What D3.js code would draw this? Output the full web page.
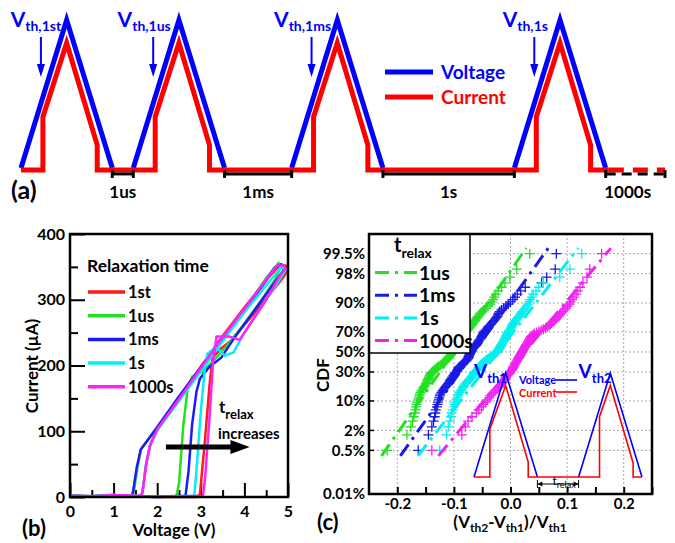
<!DOCTYPE html>
<html>
<head>
<meta charset="utf-8">
<script src="https://cdn.jsdelivr.net/npm/d3@7"></script>
<style>
  body { margin: 0; background: #fff; }
  svg text { font-family: Lato, "Open Sans", sans-serif; font-weight: bold; }
</style>
</head>
<body>
<svg id="fig" width="675" height="543"></svg>
<script>
// ---------- (a) pulse schematic ----------
var gapLabels = ["1us", "1ms", "1s", "1000s"];
var gapLength = [0.46, 1.47, 2.88, 1.3];      // rest between pulses, schematic units (pulse = 2)
var vthLabels = ["1st", "1us", "1ms", "1s"];
var currentShape = [0.48, 0.345, 0.845, 1.67, 0.155]; // rise time, rise level, peak, fall time, fall level
var legendA = ["Voltage", "Current"];

// ---------- (b) I-V loops, [V, uA] ----------
var ivNames = ["1st", "1us", "1ms", "1s", "1000s"];
var iv1st = [[0,2],[0.5,1],[1,3],[1.4,1],[2,0],[2.9,0],[2.98,4],[3.1,90],[3.2,170],[3.27,212],[3.45,225],[3.7,238],[4,262],[4.3,285],[4.6,310],[4.9,335],[5,345],[4.95,352],[4.8,352],[4.5,330],[4,288],[3.5,245],[3,198],[2.5,152],[2,104],[1.84,80],[1.75,50],[1.68,15],[1.64,2],[1.4,1],[1,3],[0.5,1],[0,2]];
var iv1us = [[0,2],[0.5,1],[1,3],[1.4,1],[2,0],[2.44,2],[2.5,20],[2.6,110],[2.7,165],[2.8,183],[3.05,191],[3.3,208],[3.6,230],[4,264],[4.4,300],[4.7,330],[4.85,352],[4.78,356],[4.5,333],[4,285],[3.5,241],[3,196],[2.5,152],[2,106],[1.63,73],[1.55,45],[1.47,10],[1.44,2],[1.3,1],[1,3],[0.5,1],[0,2]];
var iv1ms = [[0,2],[0.5,1],[1,3],[1.4,1],[2,0],[2.65,2],[2.72,40],[2.8,110],[2.9,160],[2.98,180],[3.2,198],[3.47,212],[3.8,245],[4.2,281],[4.6,318],[4.9,345],[4.85,354],[4.7,349],[4.4,320],[4,285],[3.5,241],[3,197],[2.5,153],[2,106],[1.62,72],[1.53,45],[1.45,10],[1.42,2],[1.3,1],[1,3],[0.5,1],[0,2]];
var iv1s = [[0,2],[0.5,1],[1,3],[1.4,1],[2,0],[2.85,2],[2.9,40],[3,130],[3.1,200],[3.15,218],[3.35,228],[3.55,215],[3.75,220],[4,250],[4.4,290],[4.8,330],[4.95,345],[4.85,350],[4.6,330],[4,281],[3.5,237],[3,191],[2.5,146],[2,101],[1.83,78],[1.74,48],[1.67,10],[1.64,2],[1,3],[0.5,1],[0,2]];
var iv1000s = [[0,2],[0.5,1],[1,3],[1.4,1],[2,0],[3.05,2],[3.1,30],[3.2,120],[3.28,205],[3.36,244],[3.66,244],[3.89,239],[4.2,270],[4.5,300],[4.8,335],[4.95,348],[4.9,352],[4.75,352],[4.4,322],[4,286],[3.5,243],[3,196],[2.5,149],[2,103],[1.83,77],[1.74,48],[1.67,10],[1.64,2],[1,3],[0.5,1],[0,2]];

// ---------- (c) threshold shift distributions (100 devices each, sorted) ----------
var cdfNames = ["1us", "1ms", "1s", "1000s"];
var dv1us = [-0.218,-0.183,-0.176,-0.173,-0.171,-0.169,-0.168,-0.167,-0.166,-0.165,
  -0.163,-0.162,-0.161,-0.160,-0.159,-0.157,-0.155,-0.154,-0.152,-0.150,
  -0.149,-0.148,-0.147,-0.146,-0.145,-0.144,-0.143,-0.142,-0.141,-0.139,
  -0.137,-0.135,-0.133,-0.131,-0.129,-0.127,-0.124,-0.121,-0.119,-0.117,
  -0.115,-0.113,-0.112,-0.110,-0.109,-0.108,-0.106,-0.105,-0.103,-0.102,
  -0.100,-0.099,-0.098,-0.097,-0.096,-0.095,-0.094,-0.093,-0.091,-0.090,
  -0.089,-0.088,-0.087,-0.086,-0.085,-0.084,-0.083,-0.082,-0.081,-0.079,
  -0.078,-0.076,-0.074,-0.073,-0.071,-0.069,-0.068,-0.066,-0.064,-0.062,
  -0.061,-0.059,-0.057,-0.055,-0.053,-0.050,-0.047,-0.044,-0.040,-0.036,
  -0.033,-0.031,-0.029,-0.026,-0.022,-0.016,-0.010,-0.001,0.011,0.034];
var dv1ms = [-0.163,-0.145,-0.139,-0.136,-0.134,-0.133,-0.132,-0.130,-0.129,-0.128,
  -0.127,-0.126,-0.125,-0.124,-0.122,-0.120,-0.118,-0.116,-0.114,-0.112,
  -0.110,-0.108,-0.107,-0.106,-0.104,-0.103,-0.101,-0.100,-0.098,-0.097,
  -0.095,-0.094,-0.093,-0.092,-0.091,-0.089,-0.087,-0.085,-0.083,-0.081,
  -0.079,-0.077,-0.076,-0.075,-0.074,-0.074,-0.073,-0.072,-0.072,-0.071,
  -0.070,-0.069,-0.068,-0.066,-0.065,-0.063,-0.062,-0.061,-0.059,-0.058,
  -0.057,-0.056,-0.055,-0.053,-0.052,-0.051,-0.050,-0.049,-0.048,-0.047,
  -0.046,-0.044,-0.042,-0.040,-0.039,-0.037,-0.035,-0.033,-0.031,-0.029,
  -0.027,-0.025,-0.023,-0.022,-0.021,-0.019,-0.016,-0.012,-0.008,-0.004,
  0.000,0.004,0.008,0.012,0.018,0.026,0.055,0.064,0.079,0.081];
var dv1s = [-0.125,-0.113,-0.110,-0.107,-0.105,-0.104,-0.102,-0.100,-0.099,-0.098,
  -0.096,-0.094,-0.093,-0.092,-0.090,-0.088,-0.086,-0.084,-0.083,-0.081,
  -0.079,-0.077,-0.075,-0.073,-0.071,-0.069,-0.067,-0.066,-0.065,-0.064,
  -0.062,-0.060,-0.058,-0.056,-0.055,-0.054,-0.053,-0.051,-0.049,-0.047,
  -0.045,-0.043,-0.041,-0.039,-0.036,-0.034,-0.031,-0.029,-0.027,-0.024,
  -0.023,-0.022,-0.021,-0.020,-0.019,-0.018,-0.017,-0.016,-0.015,-0.014,
  -0.013,-0.012,-0.011,-0.010,-0.009,-0.008,-0.007,-0.006,-0.005,-0.004,
  -0.003,-0.002,0.000,0.001,0.002,0.003,0.004,0.005,0.007,0.009,
  0.011,0.013,0.015,0.017,0.019,0.021,0.023,0.026,0.029,0.031,
  0.033,0.035,0.038,0.040,0.045,0.050,0.058,0.087,0.105,0.126];
var dv1000s = [-0.139,-0.086,-0.080,-0.075,-0.068,-0.060,-0.056,-0.051,-0.048,-0.044,
  -0.041,-0.038,-0.036,-0.033,-0.030,-0.027,-0.024,-0.021,-0.019,-0.017,
  -0.015,-0.013,-0.011,-0.010,-0.009,-0.008,-0.006,-0.004,-0.002,-0.001,
  0.000,0.002,0.003,0.004,0.005,0.006,0.007,0.008,0.009,0.010,
  0.011,0.012,0.013,0.014,0.015,0.016,0.017,0.018,0.019,0.020,
  0.021,0.022,0.023,0.024,0.025,0.026,0.027,0.028,0.029,0.030,
  0.031,0.032,0.033,0.034,0.035,0.036,0.038,0.040,0.042,0.046,
  0.050,0.054,0.058,0.062,0.065,0.068,0.070,0.072,0.075,0.078,
  0.080,0.082,0.085,0.087,0.089,0.092,0.095,0.098,0.101,0.104,
  0.106,0.109,0.112,0.116,0.119,0.123,0.128,0.135,0.140,0.161];
var fitMu = [-0.100, -0.064, -0.022, 0.025];
var fitSigma = [0.047, 0.048, 0.052, 0.056];
var cdfTicks = [0.0001, 0.005, 0.02, 0.1, 0.3, 0.5, 0.7, 0.9, 0.98, 0.995];
var cdfTickLabels = ["0.01%", "0.5%", "2%", "10%", "30%", "50%", "70%", "90%", "98%", "99.5%"];
// inset pulse pair: rise time, rise level, peak, fall time, fall level
var insetPulse1 = [0.5, 0.46, 0.88, 1.71, 0.144];
var insetPulse2 = [0.66, 0.58, 0.88, 1.72, 0.135];
var insetGap = 1.3;

var svg = d3.select("#fig");
var BLUE = "#0000ff", RED = "#ff0000";
var ivColors = ["#ff1a1a", "#22e022", "#1a1aff", "#00f0f0", "#ff22ff"];
var cdfColors = ["#22e022", "#1a1ae6", "#00f0f0", "#f022f0"];

function sub(sel, main, subs, big, small, dy) {
  sel.append("tspan").attr("font-size", big).text(main);
  sel.append("tspan").attr("font-size", small).attr("dy", dy).text(subs);
}

// ================= (a) =================
var starts = [0];
gapLength.forEach(function (g, k) { starts.push(starts[k] + 2 + g); });
var ax = d3.scaleLinear().domain([0, starts[4]]).range([21, 665]);
var ay = d3.scaleLinear().domain([0, 1]).range([168, 20]);
var lineA = d3.line().x(function (d) { return ax(d[0]); }).y(function (d) { return ay(d[1]); });
var gA = svg.append("g");
var base = -0.013;

var red = [[0, base]];
vthLabels.forEach(function (l, k) {
  var s = starts[k], c = currentShape;
  red.push([s + c[0], base], [s + c[0], c[1]], [s + 1, c[2]], [s + c[3], c[4]], [s + c[3], base]);
});
red.push([starts[3] + 2.07, base]);

vthLabels.forEach(function (l, k) {
  var s = starts[k];
  gA.append("path").attr("d", lineA([[s, 0], [s + 1, 1], [s + 2, 0]]))
    .attr("fill", "none").attr("stroke", BLUE).attr("stroke-width", 5);
});
gA.append("path").attr("d", lineA(red)).attr("fill", "none").attr("stroke", RED)
  .attr("stroke-width", 5).attr("stroke-linejoin", "miter");
gA.append("path").attr("d", lineA([[starts[3] + 2.07, base], [starts[4], base]]))
  .attr("fill", "none").attr("stroke", RED).attr("stroke-width", 5).attr("stroke-dasharray", "15,9");

// rest intervals
gapLabels.forEach(function (l, k) {
  var x0 = ax(starts[k] + 2), x1 = ax(starts[k + 1]), y = ay(-0.04);
  gA.append("line").attr("x1", x0).attr("x2", x1).attr("y1", y).attr("y2", y)
    .attr("stroke", "#000").attr("stroke-width", 3)
    .attr("stroke-dasharray", k === 3 ? "10,6" : null);
  [x0, x1].forEach(function (x) {
    gA.append("line").attr("x1", x).attr("x2", x).attr("y1", y - 4).attr("y2", y + 4)
      .attr("stroke", "#000").attr("stroke-width", 3);
  });
  gA.append("text").attr("x", k === 3 ? x0 + 22 : (x0 + x1) / 2).attr("y", 198).attr("text-anchor", "middle")
    .attr("font-size", 17).text(l);
});

// Vth arrows & labels
vthLabels.forEach(function (l, k) {
  var x = ax(starts[k] + currentShape[0]) - 2;
  gA.append("line").attr("x1", x).attr("x2", x).attr("y1", 37).attr("y2", 66)
    .attr("stroke", BLUE).attr("stroke-width", 2);
  gA.append("path").attr("d", "M" + (x - 4) + ",64L" + (x + 4) + ",64L" + x + ",77Z").attr("fill", BLUE);
  var t = gA.append("text").attr("x", x - (k === 0 ? 5 : 9)).attr("y", 27).attr("text-anchor", "middle").attr("fill", BLUE);
  sub(t, "V", "th," + l, 21, 14, 4);
});

// legend (a)
legendA.forEach(function (l, k) {
  var y = 72 + k * 25, c = k === 0 ? BLUE : RED;
  gA.append("line").attr("x1", 385).attr("x2", 433).attr("y1", y).attr("y2", y)
    .attr("stroke", c).attr("stroke-width", 5);
  gA.append("text").attr("x", 441).attr("y", y + 7).attr("fill", c).attr("font-size", 19).text(l);
});
gA.append("text").attr("x", 11).attr("y", 199).attr("font-size", 25).text("(a)");

// ================= (b) =================
var bx = d3.scaleLinear().domain([0, 5]).range([70, 288]);
var by = d3.scaleLinear().domain([0, 400]).range([497, 234]);
var gB = svg.append("g");

function styleAxis(g, fs) {
  g.select(".domain").remove();
  g.selectAll("line").attr("stroke", "#000").attr("stroke-width", 2);
  g.selectAll("text").attr("font-size", fs).attr("font-family", "Lato, sans-serif").attr("font-weight", "bold");
}
gB.append("g").attr("transform", "translate(0,497)")
  .call(d3.axisBottom(bx).tickValues([0.5, 1.5, 2.5, 3.5, 4.5]).tickSize(-7).tickFormat(""))
  .call(styleAxis, 16);
gB.append("g").attr("transform", "translate(0,497)")
  .call(d3.axisBottom(bx).ticks(5).tickSize(-14).tickPadding(9).tickFormat(d3.format("d")))
  .call(styleAxis, 16);
gB.append("g").attr("transform", "translate(70,0)")
  .call(d3.axisLeft(by).tickValues([50, 150, 250, 350]).tickSize(-8).tickFormat(""))
  .call(styleAxis, 16);
gB.append("g").attr("transform", "translate(70,0)")
  .call(d3.axisLeft(by).ticks(4).tickSize(-15).tickPadding(5))
  .call(styleAxis, 16);

var lineB = d3.line().x(function (d) { return bx(d[0]); }).y(function (d) { return by(d[1]); });
[iv1st, iv1us, iv1ms, iv1s, iv1000s].forEach(function (c, k) {
  gB.append("path").attr("d", lineB(c)).attr("fill", "none").attr("stroke", ivColors[k])
    .attr("stroke-width", 2.5).attr("stroke-linejoin", "round");
});
gB.append("rect").attr("x", 70).attr("y", 234).attr("width", 218).attr("height", 263)
  .attr("fill", "none").attr("stroke", "#000").attr("stroke-width", 2.5);

gB.append("text").attr("x", 87).attr("y", 272).attr("font-size", 17.5).text("Relaxation time");
ivNames.forEach(function (n, k) {
  var y = 292 + k * 23.7;
  gB.append("line").attr("x1", 88).attr("x2", 125).attr("y1", y).attr("y2", y)
    .attr("stroke", ivColors[k]).attr("stroke-width", 3.5);
  gB.append("text").attr("x", 128).attr("y", y + 6).attr("font-size", 16.5).text(n);
});

// arrow: t_relax increases
gB.append("line").attr("x1", bx(2.2)).attr("x2", bx(3.7)).attr("y1", 447).attr("y2", 447)
  .attr("stroke", "#000").attr("stroke-width", 5);
gB.append("path").attr("d", "M" + bx(3.68) + ",440L" + bx(4.12) + ",447L" + bx(3.68) + ",454Z").attr("fill", "#000");
var tb = gB.append("text").attr("x", 219).attr("y", 413);
sub(tb, "t", "relax", 17, 13, 6);
gB.append("text").attr("x", 218).attr("y", 439).attr("font-size", 15).text("increases");

gB.append("text").attr("x", 174).attr("y", 536).attr("text-anchor", "middle").attr("font-size", 17).text("Voltage (V)");
gB.append("text").attr("transform", "translate(38,366) rotate(-90)").attr("text-anchor", "middle")
  .attr("font-size", 17).text("Current (\u00b5A)");
gB.append("text").attr("x", 22).attr("y", 536).attr("font-size", 22).text("(b)");

// ================= (c) =================
function probit(p) {
  var a = [-39.69683028665376, 220.9460984245205, -275.9285104469687, 138.3577518672690, -30.66479806614716, 2.506628277459239];
  var b = [-54.47609879822406, 161.5858368580409, -155.6989798598866, 66.80131188771972, -13.28068155288572];
  var c = [-0.007784894002430293, -0.3223964580411365, -2.400758277161838, -2.549732539343734, 4.374664141464968, 2.938163982698783];
  var d = [0.007784695709041462, 0.3224671290700398, 2.445134137142996, 3.754408661907416];
  var pl = 0.02425, q, r;
  if (p < pl) {
    q = Math.sqrt(-2 * Math.log(p));
    return (((((c[0] * q + c[1]) * q + c[2]) * q + c[3]) * q + c[4]) * q + c[5]) / ((((d[0] * q + d[1]) * q + d[2]) * q + d[3]) * q + 1);
  }
  if (p > 1 - pl) return -probit(1 - p);
  q = p - 0.5; r = q * q;
  return (((((a[0] * r + a[1]) * r + a[2]) * r + a[3]) * r + a[4]) * r + a[5]) * q / (((((b[0] * r + b[1]) * r + b[2]) * r + b[3]) * r + b[4]) * r + 1);
}
var cx = d3.scaleLinear().domain([-0.25, 0.25]).range([369, 652]);
var cz = d3.scaleLinear().domain([probit(0.0001), probit(0.999)]).range([494, 234]);
var gC = svg.append("g");

// grid
cdfTicks.slice(1).forEach(function (p) {
  gC.append("line").attr("x1", 369).attr("x2", 652).attr("y1", cz(probit(p))).attr("y2", cz(probit(p)))
    .attr("stroke", "#aaa").attr("stroke-width", 1).attr("stroke-dasharray", "2,2");
});
[-0.2, -0.1, 0, 0.1, 0.2].forEach(function (v) {
  gC.append("line").attr("x1", cx(v)).attr("x2", cx(v)).attr("y1", 234).attr("y2", 494)
    .attr("stroke", "#aaa").attr("stroke-width", 1).attr("stroke-dasharray", "2,2");
});

gC.append("g").attr("transform", "translate(0,494)")
  .call(d3.axisBottom(cx).tickValues(d3.range(-0.2, 0.26, 0.05)).tickSize(-7).tickFormat(""))
  .call(styleAxis, 15);
gC.append("g").attr("transform", "translate(0,494)")
  .call(d3.axisBottom(cx).tickValues([-0.2, -0.1, 0, 0.1, 0.2]).tickSize(0).tickPadding(4).tickFormat(d3.format(".1f")))
  .call(styleAxis, 15);
gC.selectAll("text").text(function () { return this.textContent.replace("\u2212", "-"); });
cdfTicks.forEach(function (p, i) {
  var y = cz(probit(p));
  gC.append("line").attr("x1", 369).attr("x2", 374).attr("y1", y).attr("y2", y).attr("stroke", "#000").attr("stroke-width", 1.5);
  gC.append("text").attr("x", 365).attr("y", y).attr("dy", "0.35em").attr("text-anchor", "end")
    .attr("font-size", 15).text(cdfTickLabels[i]);
});

// fits and data
var lineC = d3.line().x(function (d) { return cx(d[0]); }).y(function (d) { return cz(d[1]); });
[dv1us, dv1ms, dv1s, dv1000s].forEach(function (vals, k) {
  var zs = [-2.72, 2.72];
  gC.append("path").attr("d", lineC(zs.map(function (z) { return [fitMu[k] + fitSigma[k] * z, z]; })))
    .attr("stroke", cdfColors[k]).attr("stroke-width", 3).attr("stroke-dasharray", "14,6,3,6").attr("fill", "none");
  gC.selectAll(null).data(vals).enter().append("path")
    .attr("d", "M-5,0H5M0,-5V5")
    .attr("transform", function (d, i) { return "translate(" + cx(d) + "," + cz(probit((i + 0.5) / vals.length)) + ")"; })
    .attr("stroke", cdfColors[k]).attr("stroke-width", 1.3).attr("fill", "none");
});

// inset schematic
var ix = d3.scaleLinear().domain([0, 4 + insetGap]).range([474, 642]);
var iy = d3.scaleLinear().domain([0, 1]).range([477, 373]);
var lineI = d3.line().x(function (d) { return ix(d[0]); }).y(function (d) { return iy(d[1]); });
var iStarts = [0, 2 + insetGap];
var iRed = [[0, 0]];
[insetPulse1, insetPulse2].forEach(function (c, k) {
  var s = iStarts[k];
  gC.append("path").attr("d", lineI([[s, 0], [s + 1, 1], [s + 2, 0]])).attr("fill", "none")
    .attr("stroke", BLUE).attr("stroke-width", 1.6);
  iRed.push([s + c[0], 0], [s + c[0], c[1]], [s + 1, c[2]], [s + c[3], c[4]], [s + c[3], 0]);
});
iRed.push([4 + insetGap, 0]);
gC.append("path").attr("d", lineI(iRed)).attr("fill", "none").attr("stroke", RED).attr("stroke-width", 1.6);

["1", "2"].forEach(function (n, k) {
  var t = gC.append("text").attr("x", ix(iStarts[k])).attr("y", 378).attr("fill", BLUE);
  sub(t, "V", "th" + n, 19, 13, 5);
});
gC.append("text").attr("x", 519).attr("y", 384).attr("fill", BLUE).attr("font-size", 11).text("Voltage");
gC.append("line").attr("x1", 556).attr("x2", 577).attr("y1", 380).attr("y2", 380).attr("stroke", BLUE).attr("stroke-width", 1.6);
gC.append("text").attr("x", 519).attr("y", 397).attr("fill", RED).attr("font-size", 11).text("Current");
gC.append("line").attr("x1", 556).attr("x2", 577).attr("y1", 392).attr("y2", 392).attr("stroke", RED).attr("stroke-width", 1.6);

var tx0 = ix(2), tx1 = ix(2 + insetGap), ty = 484;
gC.append("line").attr("x1", tx0).attr("x2", tx1).attr("y1", ty).attr("y2", ty).attr("stroke", "#000").attr("stroke-width", 1);
[tx0, tx1].forEach(function (x) {
  gC.append("line").attr("x1", x).attr("x2", x).attr("y1", ty - 4).attr("y2", ty + 4).attr("stroke", "#000").attr("stroke-width", 1);
});
gC.append("path").attr("d", "M" + tx0 + "," + ty + "l5,-2.5v5Z M" + tx1 + "," + ty + "l-5,-2.5v5Z").attr("fill", "#000");
var tr = gC.append("text").attr("x", tx0 + 15).attr("y", ty + 1).attr("font-weight", "normal");
sub(tr, "t", "relax", 12, 9, 3);
tr.selectAll("tspan").attr("font-weight", "normal");

// legend (c)
gC.append("rect").attr("x", 369).attr("y", 234).attr("width", 101).attr("height", 119)
  .attr("fill", "#fff").attr("stroke", "#000").attr("stroke-width", 1.5);
var tl = gC.append("text").attr("x", 394).attr("y", 252);
sub(tl, "t", "relax", 20, 14, 6);
cdfNames.forEach(function (n, k) {
  var y = 272.5 + k * 22.7;
  gC.append("line").attr("x1", 375).attr("x2", 417).attr("y1", y).attr("y2", y)
    .attr("stroke", cdfColors[k]).attr("stroke-width", 3).attr("stroke-dasharray", "14,6,3,6");
  gC.append("text").attr("x", 419).attr("y", y + 7).attr("font-size", 19.5).text(n);
});

gC.append("rect").attr("x", 369).attr("y", 234).attr("width", 283).attr("height", 260)
  .attr("fill", "none").attr("stroke", "#000").attr("stroke-width", 2.5);

var xt = gC.append("text").attr("x", 510).attr("y", 528).attr("text-anchor", "middle");
xt.append("tspan").attr("font-size", 17).text("(V");
xt.append("tspan").attr("font-size", 12).attr("dy", 4).text("th2");
xt.append("tspan").attr("font-size", 17).attr("dy", -4).text("-V");
xt.append("tspan").attr("font-size", 12).attr("dy", 4).text("th1");
xt.append("tspan").attr("font-size", 17).attr("dy", -4).text(")/V");
xt.append("tspan").attr("font-size", 12).attr("dy", 4).text("th1");
gC.append("text").attr("transform", "translate(329,375) rotate(-90)").attr("text-anchor", "middle")
  .attr("font-size", 17).text("CDF");
gC.append("text").attr("x", 317).attr("y", 530).attr("font-size", 22).text("(c)");
</script>
</body>
</html>
